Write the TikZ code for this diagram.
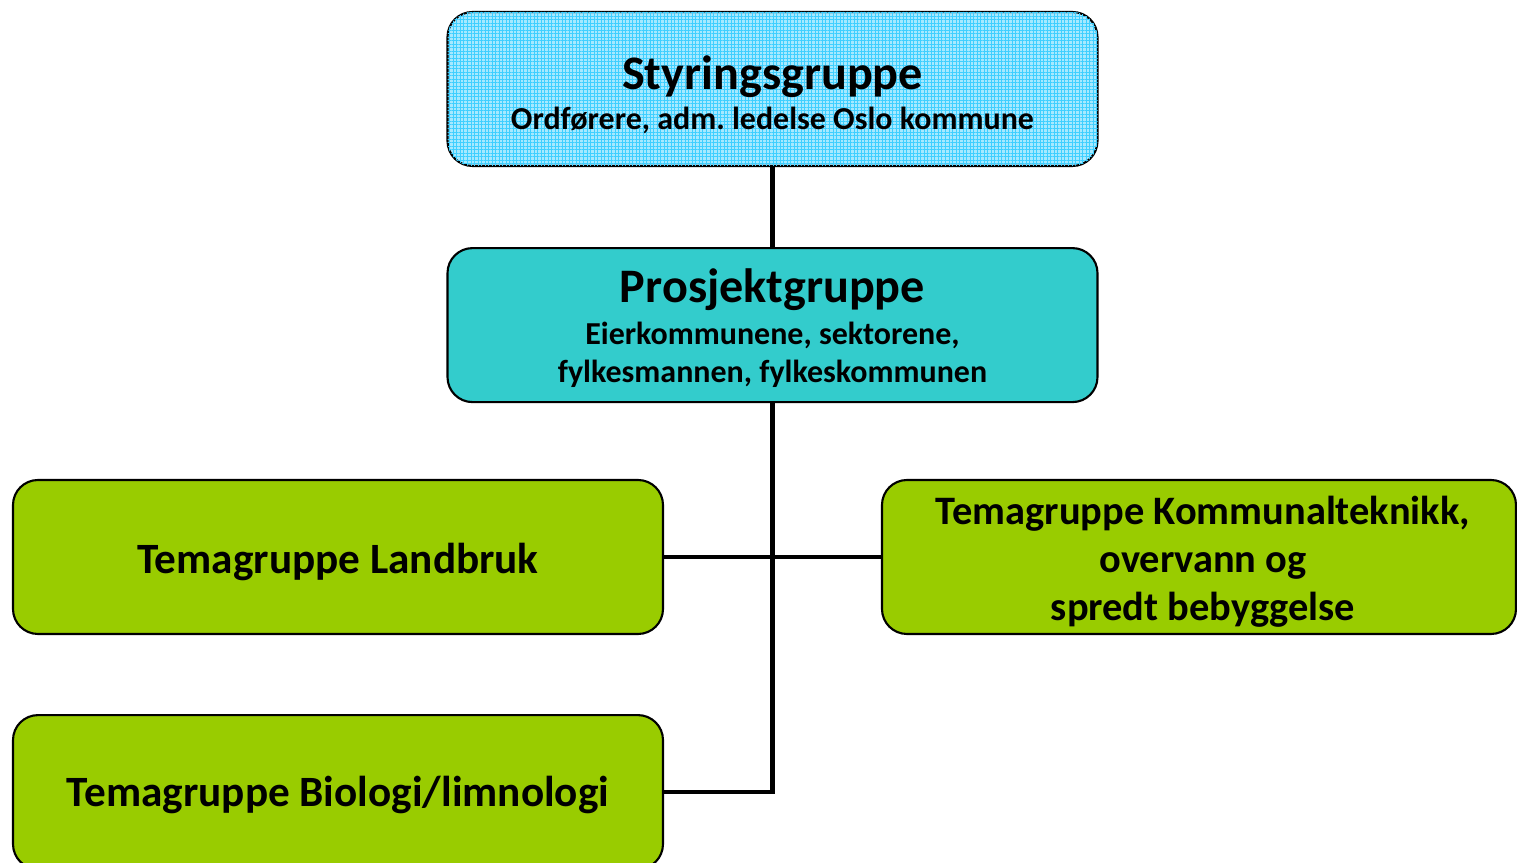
\documentclass[tikz,border=0pt]{standalone}
\usepackage{fontspec}
\setmainfont{Carlito}
\usepackage{xcolor}
\usepackage{tikz}
\usetikzlibrary{positioning,patterns.meta}
\frenchspacing

\definecolor{styblue}{HTML}{A6E9FF}
\definecolor{stygrid}{HTML}{3FCFFF}
\definecolor{proteal}{HTML}{33CCCC}
\definecolor{temagreen}{HTML}{99CC00}

\tikzset{
    gruppe/.style={draw=black, line width=0.6pt, rounded corners=0.25cm,
                   minimum width=6.5cm, minimum height=1.54cm},
    tema/.style={gruppe, fill=temagreen},
    tekst/.style={align=center, inner sep=0pt, font=\bfseries\fontsize{9.1}{10.8}\selectfont},
    tematekst/.style={tekst, font=\bfseries\fontsize{12.3}{13.7}\selectfont},
    linje/.style={line width=1.2pt, black}
}

\newcommand{\tittel}[1]{{\fontsize{13.7}{15}\selectfont #1}}

\begin{document}
\begin{tikzpicture}
            \path[use as bounding box] (0,0) rectangle (15.17,8.63);

            % boksene
            \node[gruppe, fill=styblue,
                  postaction={pattern={Lines[distance=1pt, angle=0, line width=0.25pt]}, pattern color=stygrid},
                  postaction={pattern={Lines[distance=1pt, angle=90, line width=0.25pt]}, pattern color=stygrid}]
                  (sty) at (7.725,7.74) {};
            \node[gruppe, fill=proteal, below=0.8cm of sty] (pro) {};
            \node[tema] (land) at (3.38,3.06) {};
            \node[tema, minimum width=6.34cm] (komm) at (11.99,3.06) {};
            \node[tema, below=0.79cm of land] (bio) {};

            % tekstene
            \node[tekst] (sty-t) at ([yshift=-0.06cm]sty.center)
                  {\tittel{Styringsgruppe}\\[0.5pt] Ordførere, adm. ledelse Oslo kommune};
            \node[tekst] (pro-t) at ([yshift=-0.03cm]pro.center)
                  {\tittel{Prosjektgruppe}\\[1pt] Eierkommunene, sektorene,\\ fylkesmannen, fylkeskommunen};
            \node[tematekst] (land-t) at ([yshift=-0.05cm]land.center) {Temagruppe Landbruk};
            \node[tematekst, font=\bfseries\fontsize{11.5}{13.7}\selectfont] (komm-t) at ([xshift=0.04cm,yshift=-0.05cm]komm.center)
                  {Temagruppe Kommunalteknikk,\\ overvann og\\ spredt bebyggelse};
            \node[tematekst] (bio-t) at ([yshift=-0.03cm]bio.center) {Temagruppe Biologi/limnologi};

            \draw[linje] (sty) -- (pro);
            \draw[linje] (pro.south) |- (bio.east);
            \draw[linje] (land.east) -- (komm.west);
        \end{tikzpicture}
\end{document}
